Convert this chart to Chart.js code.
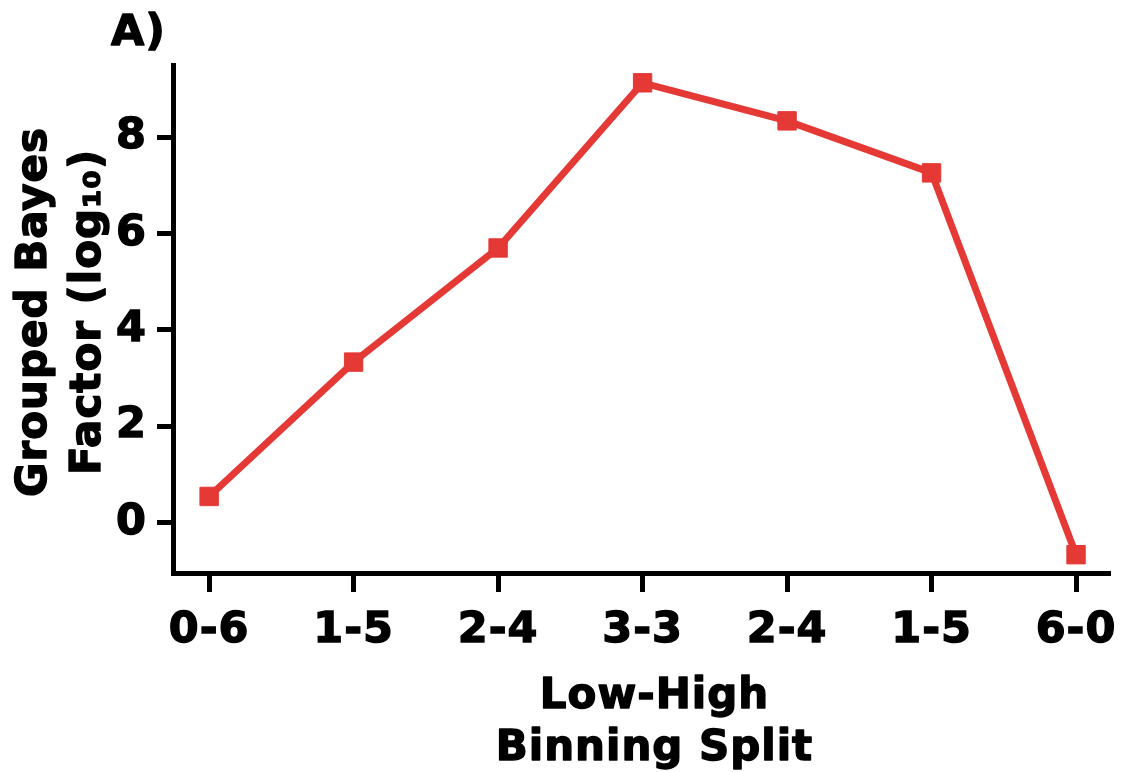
<!DOCTYPE html>
<html>
<head>
<meta charset="utf-8">
<script src="https://cdn.jsdelivr.net/npm/chart.js@4.4.0/dist/chart.umd.min.js"></script>
<style>
  html, body { margin: 0; padding: 0; background: #fff; }
  #wrap { width: 1126px; height: 772px; }
</style>
</head>
<body>
<div id="wrap"><canvas id="grafico"></canvas></div>
<script>
// datos
const splits = ["0-6", "1-5", "2-4", "3-3", "2-4", "1-5", "6-0"];
const bayesLog10 = [0.54, 3.33, 5.70, 9.13, 8.34, 7.26, -0.67];
const yTicks = [0, 2, 4, 6, 8];
const tituloX = ["Low-High", "Binning Split"];
const tituloY = ["Grouped Bayes", "Factor (log\u2081\u2080)"];
const panel = "A)";

const ROJO = "#e53935";
const FUENTE = "'DejaVu Sans', Verdana, sans-serif";
const ESPACIADO = "1px";

const puntos = bayesLog10.map((v, i) => ({ x: i, y: v }));

// texto grueso: relleno + trazo fino
function textoGrueso(ctx, txt, x, y) {
  ctx.fillText(txt, x, y);
  ctx.strokeText(txt, x, y);
}

// titulos de ejes y etiqueta del panel, dibujados a mano para ajustar posicion
const textos = {
  id: "textos",
  beforeLayout(chart) { chart.ctx.letterSpacing = ESPACIADO; },
  beforeDraw(chart) { chart.ctx.letterSpacing = ESPACIADO; },
  afterDraw(chart) {
    const ctx = chart.ctx;
    const area = chart.chartArea;
    ctx.save();
    ctx.letterSpacing = ESPACIADO;
    ctx.fillStyle = "#000";
    ctx.strokeStyle = "#000";
    ctx.lineWidth = 1.4;
    ctx.lineJoin = "round";
    ctx.textBaseline = "alphabetic";

    // A)
    ctx.textAlign = "left";
    ctx.font = "bold 43px " + FUENTE;
    textoGrueso(ctx, panel, 111, 45);

    // eje x
    ctx.textAlign = "center";
    ctx.font = "bold 42px " + FUENTE;
    const cx = area.left + (area.right - area.left) / 2 + 13;
    textoGrueso(ctx, tituloX[0], cx, 708);
    textoGrueso(ctx, tituloX[1], cx, 760);

    // eje y (rotado)
    const cy = area.top + (area.bottom - area.top) / 2 - 7;
    ctx.font = "bold 42px " + FUENTE;
    [[tituloY[0], 46], [tituloY[1], 100]].forEach(([t, bx]) => {
      ctx.save();
      ctx.translate(bx, cy);
      ctx.rotate(-Math.PI / 2);
      textoGrueso(ctx, t, 0, 0);
      ctx.restore();
    });
    ctx.restore();
  }
};

const fuenteTicks = { family: FUENTE, size: 43, weight: "bold" };

new Chart(document.getElementById("grafico"), {
  type: "line",
  data: {
    datasets: [{
      data: puntos,
      borderColor: ROJO,
      backgroundColor: ROJO,
      borderWidth: 7,
      tension: 0,
      pointStyle: "rect",
      pointRadius: 13,
      pointBorderWidth: 1,
      pointHoverRadius: 13,
      clip: false
    }]
  },
  options: {
    responsive: true,
    maintainAspectRatio: false,
    animation: false,
    events: [],
    layout: { padding: { top: 65, right: 16, left: 0, bottom: 0 } },
    plugins: { legend: { display: false }, tooltip: { enabled: false } },
    scales: {
      x: {
        type: "linear",
        min: -0.25,
        max: 6.235,
        afterBuildTicks: s => { s.ticks = splits.map((_, i) => ({ value: i })); },
        afterFit: s => { s.height = 199; s.paddingLeft = 0; s.paddingRight = 0; },
        border: { display: true, width: 5, color: "#000" },
        grid: { display: true, drawOnChartArea: false, drawTicks: true, tickLength: 19, tickWidth: 5, tickColor: "#000" },
        ticks: {
          padding: 13,
          color: "#000",
          autoSkip: false,
          maxRotation: 0,
          textStrokeColor: "#000",
          textStrokeWidth: 1.4,
          font: fuenteTicks,
          callback: v => splits[v]
        },
        title: { display: false }
      },
      y: {
        min: -1.05,
        max: 9.5,
        afterBuildTicks: s => { s.ticks = yTicks.map(v => ({ value: v })); },
        afterFit: s => { s.width = 173; s.paddingTop = 0; s.paddingBottom = 0; },
        border: { display: true, width: 5, color: "#000" },
        grid: { display: true, drawOnChartArea: false, drawTicks: true, tickLength: 16, tickWidth: 5, tickColor: "#000" },
        ticks: {
          padding: 10,
          color: "#000",
          textStrokeColor: "#000",
          textStrokeWidth: 1.4,
          font: fuenteTicks
        },
        title: { display: false }
      }
    }
  },
  plugins: [textos]
});
</script>
</body>
</html>
